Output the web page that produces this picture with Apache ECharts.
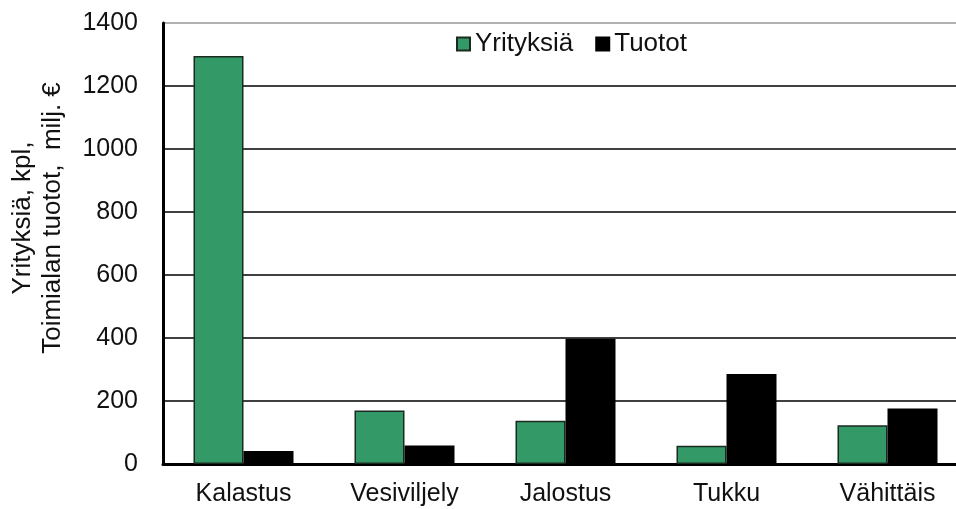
<!DOCTYPE html>
<html>
<head>
<meta charset="utf-8">
<title>Yritykset ja tuotot</title>
<script src="https://cdn.jsdelivr.net/npm/echarts@6/dist/echarts.min.js"></script>
<style>
    html, body { margin: 0; padding: 0; background: #fff; overflow: hidden; }
    /* a little wider than the window: the plot runs past the right edge */
    #main { width: 970px; height: 509px; }
</style>
</head>
<body>
<div id="main"></div>
<script>
// data
var categories = ['Kalastus', 'Vesiviljely', 'Jalostus', 'Tukku', 'Vähittäis'];
var yrityksia = [1295, 170, 137, 58, 123];
var tuotot = [41, 59, 398, 286, 176];
var yTicks = [0, 200, 400, 600, 800, 1000, 1200, 1400];

var font = '"Liberation Sans", Arial, sans-serif';
var textColor = '#111';

var chart = echarts.init(document.getElementById('main'));

var option = {
    animation: false,
    backgroundColor: '#fff',
    grid: {
        left: 163,
        top: 23,
        bottom: 45,
        right: 2
    },
    legend: {
        data: ['Yrityksiä', 'Tuotot'],
        left: 456,
        top: 31,
        padding: 0,
        icon: 'rect',
        itemWidth: 13,
        itemHeight: 13,
        itemGap: 22,
        textStyle: { fontFamily: font, fontSize: 26, color: textColor }
    },
    graphic: [{
        type: 'text',
        x: 38,
        y: 218,
        rotation: Math.PI / 2,
        style: {
            text: 'Yrityksiä, kpl,\nToimialan tuotot,  milj. €',
            font: '26px ' + font,
            align: 'center',
            verticalAlign: 'middle',
            lineHeight: 30,
            fill: textColor
        }
    }],
    xAxis: {
        type: 'category',
        data: categories,
        axisLine: { lineStyle: { color: '#000', width: 3 } },
        axisTick: { inside: true, length: 8, lineStyle: { color: '#000', width: 3 } },
        axisLabel: { fontFamily: font, fontSize: 25, color: textColor, margin: 18 }
    },
    yAxis: {
        type: 'value',
        min: yTicks[0],
        max: yTicks[yTicks.length - 1],
        interval: 200,
        axisLine: { show: true, lineStyle: { color: '#000', width: 3 } },
        axisTick: { show: false },
        axisLabel: {
            fontFamily: font, fontSize: 25, color: textColor, margin: 25,
            formatter: function (v) { return String(v); }
        },
        splitLine: {
            lineStyle: {
                color: ['#000', '#000', '#000', '#000', '#000', '#000', '#000', '#999'],
                width: 1.5
            }
        }
    },
    series: [
        {
            name: 'Yrityksiä',
            type: 'bar',
            data: yrityksia,
            barWidth: 50,
            barGap: '0%',
            itemStyle: { color: '#339966', borderColor: '#1a2a20', borderWidth: 1.5 }
        },
        {
            name: 'Tuotot',
            type: 'bar',
            data: tuotot,
            barWidth: 50,
            barGap: '0%',
            itemStyle: { color: '#000', borderColor: '#000', borderWidth: 1.5 }
        }
    ]
};

chart.setOption(option);
</script>
</body>
</html>
